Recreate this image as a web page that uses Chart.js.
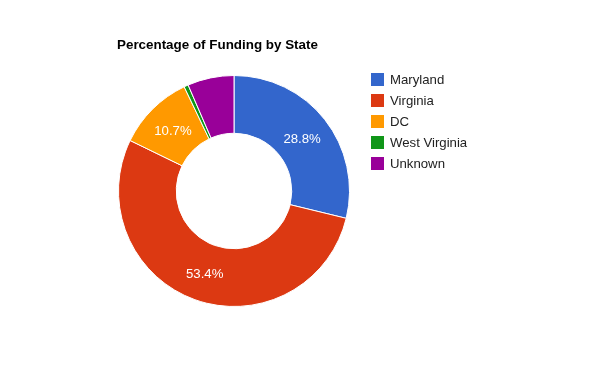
<!DOCTYPE html>
<html><head><meta charset="utf-8">
<script src="https://cdn.jsdelivr.net/npm/chart.js@4/dist/chart.umd.min.js"></script>
<style>html,body{margin:0;padding:0;background:#fff}#wrap{width:610px;height:381px;position:relative}</style>
</head><body><div id="wrap"><canvas id="c" width="610" height="381"></canvas></div>
<script>
const categories = ["Maryland", "Virginia", "DC", "West Virginia", "Unknown"];
const values = [28.8, 53.4, 10.7, 0.6, 6.5];
const colors = ["#3366cc", "#dc3912", "#ff9900", "#109618", "#990099"];
const titleText = "Percentage of Funding by State";

const overlay = {
  id: 'overlay',
  afterDraw(chart) {
    const ctx = chart.ctx;
    ctx.save();
    ctx.fillStyle = '#000';
    ctx.font = 'bold 13.4px "Liberation Sans", Arial, sans-serif';
    ctx.textBaseline = 'middle';
    ctx.textAlign = 'left';
    ctx.fillText(titleText, 117, 45);
    ctx.font = '13.2px "Liberation Sans", Arial, sans-serif';
    categories.forEach((c, i) => {
      const y = 79 + i * 21;
      ctx.fillStyle = colors[i];
      ctx.fillRect(371, y - 6, 13, 13);
      ctx.fillStyle = '#222';
      ctx.fillText(c, 390, y + 1);
    });
    const meta = chart.getDatasetMeta(0);
    const total = values.reduce((a, b) => a + b, 0);
    ctx.fillStyle = '#fff';
    ctx.textAlign = 'center';
    meta.data.forEach((arc, i) => {
      const pct = values[i] / total * 100;
      if (pct < 8) return;
      const p = arc.getCenterPoint();
      ctx.fillText(pct.toFixed(1) + '%', p.x, p.y + 1.5);
    });
    ctx.restore();
  }
};

new Chart(document.getElementById('c'), {
  type: 'doughnut',
  data: {
    labels: categories,
    datasets: [{
      data: values,
      backgroundColor: colors,
      borderColor: '#ffffff',
      borderWidth: 1,
      hoverOffset: 0
    }]
  },
  options: {
    responsive: false,
    animation: false,
    cutout: '50%',
    layout: { padding: { left: 118, right: 260, top: 75, bottom: 74 } },
    plugins: { legend: { display: false }, tooltip: { enabled: false }, title: { display: false } }
  },
  plugins: [overlay]
});
</script></body></html>
